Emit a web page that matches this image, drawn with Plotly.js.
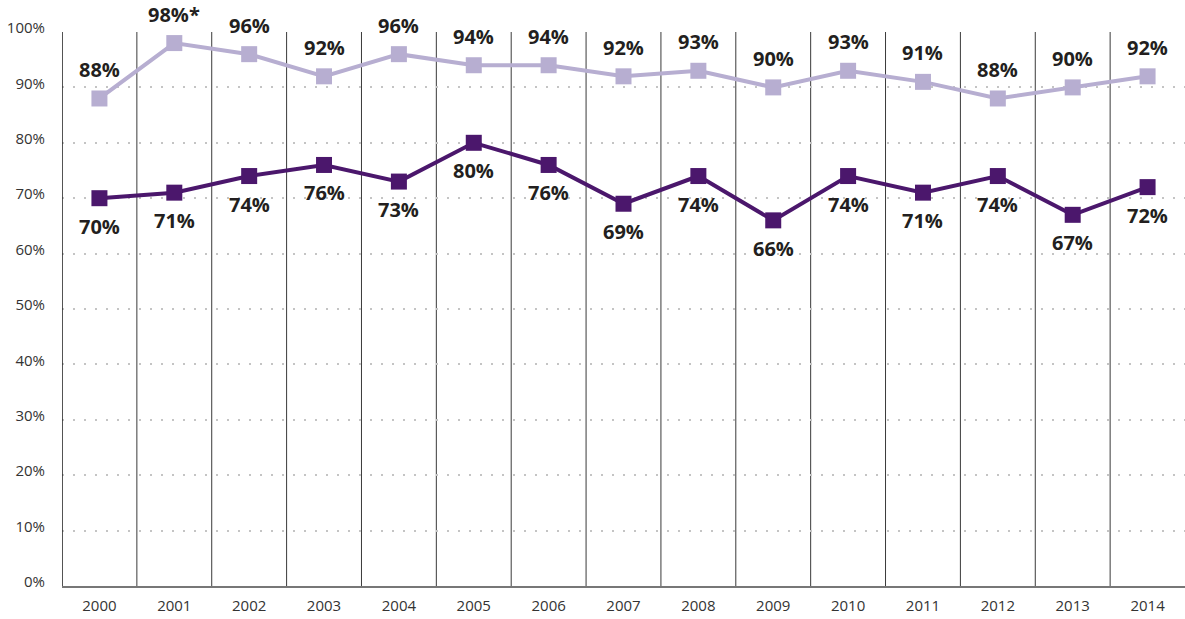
<!DOCTYPE html>
<html><head><meta charset="utf-8">
<script src="https://cdn.plot.ly/plotly-3.0.1.min.js"></script>
<style>html,body{margin:0;padding:0;background:#fff}#chart{width:1185px;height:619px}</style>
</head><body><div id="chart"></div>
<script>
const years = ["2000","2001","2002","2003","2004","2005","2006","2007","2008","2009","2010","2011","2012","2013","2014"];
const upperValues = [88, 98, 96, 92, 96, 94, 94, 92, 93, 90, 93, 91, 88, 90, 92];
const upperLabels = ["88%","98%*","96%","92%","96%","94%","94%","92%","93%","90%","93%","91%","88%","90%","92%"];
const lowerValues = [70, 71, 74, 76, 73, 80, 76, 69, 74, 66, 74, 71, 74, 67, 72];
const yTickVals = [0,10,20,30,40,50,60,70,80,90,100];
const yTickText = ["0%","10%","20%","30%","40%","50%","60%","70%","80%","90%","100%"];

const xIdx = years.map((_, i) => i);
const lightColor = "#b7aed1";
const darkColor = "#4b176c";

const traces = [
  {x: xIdx, y: upperValues, type: "scatter", mode: "lines+markers",
   line: {color: lightColor, width: 4}, marker: {symbol: "square", size: 16, color: lightColor}, hoverinfo: "skip"},
  {x: xIdx, y: lowerValues, type: "scatter", mode: "lines+markers",
   line: {color: darkColor, width: 4}, marker: {symbol: "square", size: 16, color: darkColor}, hoverinfo: "skip"}
];

const labelFont = {family: "Open Sans, sans-serif", size: 20, color: "#231f20", weight: 700};
const annotations = [];
upperValues.forEach((v, i) => annotations.push({x: i, y: v, xref: "x", yref: "y", text: "<b>" + upperLabels[i] + "</b>",
  showarrow: false, yshift: 29, font: labelFont}));
lowerValues.forEach((v, i) => annotations.push({x: i, y: v, xref: "x", yref: "y", text: "<b>" + v + "%</b>",
  showarrow: false, yshift: -28, font: labelFont}));

const shapes = [];
for (let i = 0; i < years.length - 1; i++) {
  shapes.push({type: "line", xref: "x", yref: "y", x0: i + 0.5, x1: i + 0.5, y0: 0, y1: 100,
    line: {color: "#3a3a3a", width: 1}, layer: "below"});
}
shapes.push({type: "line", xref: "x", yref: "y", x0: -0.5, x1: -0.5, y0: 0, y1: 100,
  line: {color: "#1a1a1a", width: 1.5}, layer: "above"});

const layout = {
  width: 1185, height: 619,
  margin: {l: 62, r: 0, t: 32, b: 33},
  paper_bgcolor: "#fff", plot_bgcolor: "#fff",
  showlegend: false,
  font: {family: "Open Sans, sans-serif", size: 15, color: "#333"},
  xaxis: {range: [-0.5, 14.5], tickvals: xIdx, ticktext: years, showgrid: false, zeroline: false,
    showline: true, linecolor: "#777", linewidth: 1.5, ticks: "", ticklabelstandoff: 5,
    tickfont: {size: 15, color: "#333"}, fixedrange: true},
  yaxis: {range: [0, 100], tickvals: yTickVals, ticktext: yTickText, showgrid: true,
    gridcolor: "#c4c4c4", gridwidth: 2, griddash: "2px,9px", zeroline: false, showline: false,
    ticks: "", ticklabelstandoff: 16, ticklabelshift: -4, tickfont: {size: 15, color: "#333"}, fixedrange: true},
  shapes: shapes,
  annotations: annotations
};

Plotly.newPlot("chart", traces, layout, {displayModeBar: false, staticPlot: true});
</script></body></html>
